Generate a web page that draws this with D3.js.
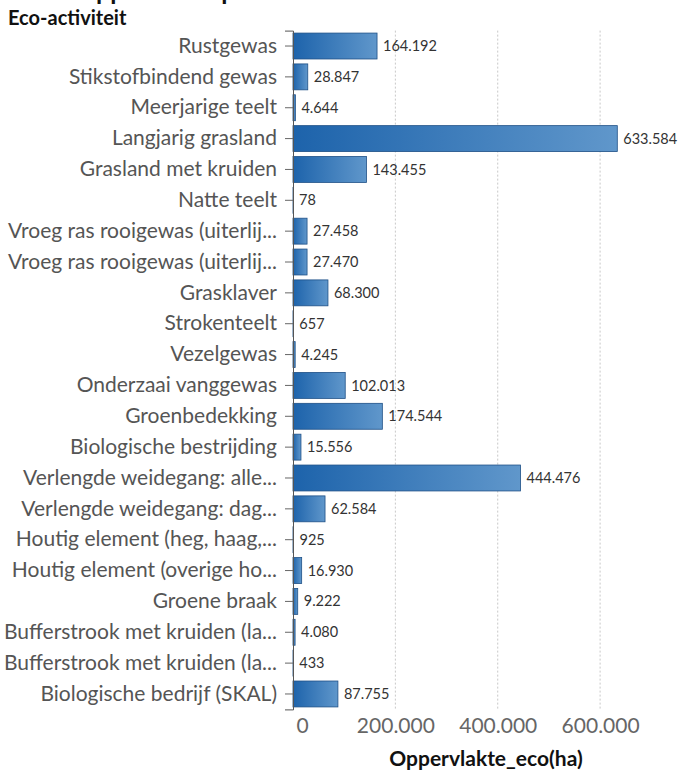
<!DOCTYPE html>
<html>
<head>
<meta charset="utf-8">
<script src="https://cdn.jsdelivr.net/npm/d3@7/dist/d3.min.js"></script>
<style>
  body { margin: 0; background: #fff; }
  svg { display: block; font-family: Lato, "Open Sans", sans-serif; }
</style>
</head>
<body>
<svg id="chart" width="678" height="771"></svg>
<script>
const categories = [
  "Rustgewas",
  "Stikstofbindend gewas",
  "Meerjarige teelt",
  "Langjarig grasland",
  "Grasland met kruiden",
  "Natte teelt",
  "Vroeg ras rooigewas (uiterlij...",
  "Vroeg ras rooigewas (uiterlij...",
  "Grasklaver",
  "Strokenteelt",
  "Vezelgewas",
  "Onderzaai vanggewas",
  "Groenbedekking",
  "Biologische bestrijding",
  "Verlengde weidegang: alle...",
  "Verlengde weidegang: dag...",
  "Houtig element (heg, haag,...",
  "Houtig element (overige ho...",
  "Groene braak",
  "Bufferstrook met kruiden (la...",
  "Bufferstrook met kruiden (la...",
  "Biologische bedrijf (SKAL)"
];
const values = [
  164192, 28847, 4644, 633584, 143455, 78, 27458, 27470, 68300, 657, 4245,
  102013, 174544, 15556, 444476, 62584, 925, 16930, 9222, 4080, 433, 87755
];
const xTicks = [0, 200000, 400000, 600000];
const titleText = "Totale oppervlakte per eco-activiteit";
const yTitle = "Eco-activiteit";
const xTitle = "Oppervlakte_eco(ha)";

const svg = d3.select("#chart");
const margin = { left: 293, right: 0, top: 30.6, bottom: 61.6 };
const width = 678, height = 771;

const rows = categories.map((c, i) => ({ key: i, label: c, value: values[i] }));

const x = d3.scaleLinear()
  .domain([0, 200000 * (385.5 / 102.5)])
  .range([margin.left, width - margin.right]);

const y = d3.scaleBand()
  .domain(rows.map(d => d.key))
  .range([margin.top, height - margin.bottom])
  .paddingInner(0.16)
  .paddingOuter(0.08);

const fmt = d3.format(",.0f");
const nl = v => fmt(v).replace(/,/g, ".");

// gradient per bar
const defs = svg.append("defs");
const grad = defs.append("linearGradient")
  .attr("id", "barGrad")
  .attr("x1", "0").attr("x2", "1").attr("y1", "0").attr("y2", "0");
grad.append("stop").attr("offset", "0%").attr("stop-color", "#1d63ab");
grad.append("stop").attr("offset", "100%").attr("stop-color", "#6097cb");

// title, mostly above the visible area
svg.append("text")
  .attr("x", 8)
  .attr("y", 0)
  .attr("font-size", 25)
  .attr("font-weight", "bold")
  .attr("fill", "#111")
  .text(titleText);

svg.append("text")
  .attr("x", 8)
  .attr("y", 25)
  .attr("font-size", 20)
  .attr("font-weight", "bold")
  .attr("fill", "#111")
  .text(yTitle);

// dotted grid
svg.append("g")
  .selectAll("line")
  .data(xTicks.slice(1))
  .join("line")
  .attr("x1", d => x(d)).attr("x2", d => x(d))
  .attr("y1", margin.top).attr("y2", height - margin.bottom)
  .attr("stroke", "#c8c8c8")
  .attr("stroke-width", 1)
  .attr("stroke-dasharray", "2,2");

// bars
svg.append("g")
  .selectAll("rect")
  .data(rows)
  .join("rect")
  .attr("x", x(0))
  .attr("y", d => y(d.key))
  .attr("width", d => Math.max(x(d.value) - x(0), 0.5))
  .attr("height", y.bandwidth())
  .attr("fill", "url(#barGrad)")
  .attr("stroke", "#1d4f86")
  .attr("stroke-width", 0.8);

// value labels
svg.append("g")
  .selectAll("text")
  .data(rows)
  .join("text")
  .attr("x", d => x(d.value) + 6)
  .attr("y", d => y(d.key) + y.bandwidth() / 2)
  .attr("dy", "0.35em")
  .attr("font-size", 14.5)
  .attr("fill", "#333")
  .text(d => nl(d.value));

// y axis
const yAxis = svg.append("g")
  .attr("transform", `translate(${x(0)},0)`)
  .call(d3.axisLeft(y).tickSize(8).tickPadding(8).tickFormat(k => categories[k]));
yAxis.select(".domain").attr("stroke", "#555");
yAxis.selectAll(".tick line").attr("stroke", "#666");
yAxis.selectAll(".tick text")
  .attr("font-size", 21)
  .attr("fill", "#555")
  .attr("font-family", "Lato, sans-serif");

// x axis
const xAxis = svg.append("g")
  .attr("transform", `translate(0,${height - margin.bottom})`)
  .call(d3.axisBottom(x).tickValues(xTicks).tickSize(0).tickPadding(9).tickFormat(nl));
xAxis.select(".domain").remove();
xAxis.selectAll(".tick text")
  .attr("font-size", 21)
  .attr("fill", "#666")
  .attr("font-family", "Lato, sans-serif");
xAxis.selectAll(".tick").filter(d => d === 0).select("text").attr("dx", 9);

svg.append("text")
  .attr("x", 486)
  .attr("y", 766)
  .attr("text-anchor", "middle")
  .attr("font-size", 21)
  .attr("font-weight", "bold")
  .attr("fill", "#111")
  .text(xTitle);
</script>
</body>
</html>
